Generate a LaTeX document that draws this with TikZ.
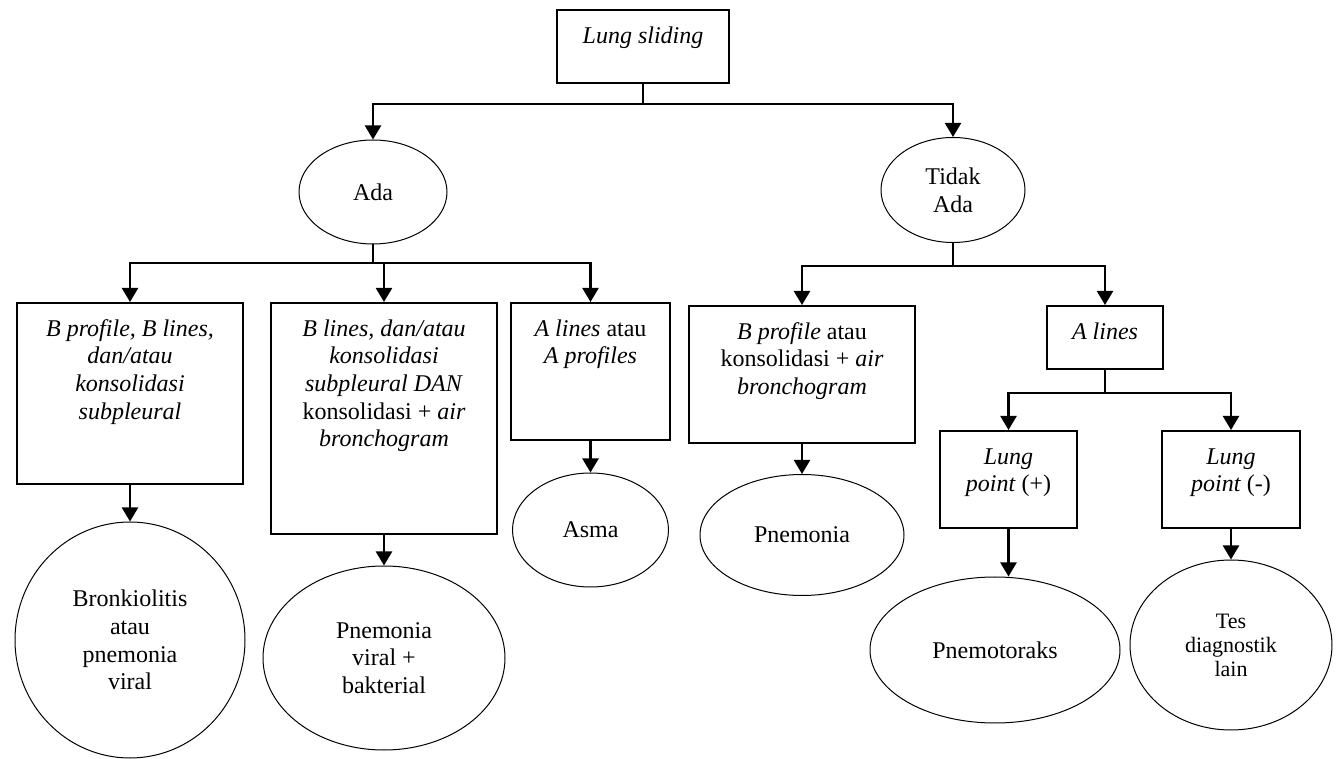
\documentclass[tikz,border=0pt]{standalone}
\usepackage{fontspec}
\setmainfont{Liberation Serif}
\usetikzlibrary{arrows.meta,shapes.geometric,positioning,calc}
\newcommand{\baris}[1]{\begin{tabular}[t]{@{}c@{}}#1\end{tabular}}

\begin{document}
\begin{tikzpicture}[x=0.5pt,y=-0.5pt,font=\fontsize{12}{13.8}\selectfont,
  kotak/.style={draw,line width=0.9pt,inner xsep=0pt,inner ysep=7pt,text height=9.7pt,anchor=north},
  bulat/.style={draw,ellipse,line width=0.5pt,inner sep=0pt,align=center},
  garis/.style={line width=1.1pt},
  panah/.style={garis,-{Triangle[width=8pt,length=7pt]}}]
  \useasboundingbox (0,0) rectangle (1341,759);
  \foreach \nm/\x/\y/\w/\d/\teks in {
      slide/643/9/86/12.8/{\textit{Lung sliding}},
      b1/130/302/113/66.8/{\textit{B profile, B lines,}\\\textit{dan/atau}\\\textit{konsolidasi}\\\textit{subpleural}},
      b2/384/302/113/91.8/{\textit{B lines, dan/atau}\\\textit{konsolidasi}\\\textit{subpleural DAN}\\konsolidasi + \textit{air}\\\textit{bronchogram}},
      b3/590.5/302/79.5/44.8/{\textit{A lines} atau\\\textit{A profiles}},
      b4/802/305/113/44.8/{\textit{B profile} atau\\konsolidasi + \textit{air}\\\textit{bronchogram}},
      b5/1105/305/58/7.8/{\textit{A lines}},
      b6/1008.5/430/68.5/24.8/{\textit{Lung}\\\textit{point} (+)},
      b7/1231/430/69/24.8/{\textit{Lung}\\\textit{point} (-)}} {
    \node[kotak,minimum width=\w pt,text depth=\d pt] (\nm) at (\x,\y) {\baris{\teks}};
  }
  \foreach \nm/\x/\y/\w/\h/\teks in {
      ada/373/192/74/52/{Ada},
      tidak/953/190/72/52.5/{Tidak\\Ada},
      e1/130/640/115/118/{Bronkiolitis\\atau\\pnemonia\\viral},
      e2/384/658/121/92/{Pnemonia\\viral +\\bakterial},
      e3/590.5/530/78/57/{Asma},
      e4/802/535/102/60.5/{Pnemonia},
      e5/995/650/125/73/{Pnemotoraks}} {
    \node[bulat,minimum width=\w pt,minimum height=\h pt] (\nm) at (\x,\y) {\teks};
  }
  \node[bulat,minimum width=101pt,minimum height=85pt,font=\fontsize{11}{12}\selectfont] (e6) at (1231,645) {Tes\\diagnostik\\lain};

  \coordinate (j1) at (643,104);
  \coordinate (j2) at (373,263);
  \coordinate (j3) at (953,266);
  \coordinate (j4) at (1105,393);
  \draw[garis] (slide) -- (j1);
  \draw[panah] (j1) -| (ada);
  \draw[panah] (j1) -| (tidak);
  \draw[garis] (ada) -- (j2);
  \foreach \b in {b1,b2,b3} \draw[panah] (j2) -| (\b);
  \draw[garis] (tidak) -- (j3);
  \foreach \b in {b4,b5} \draw[panah] (j3) -| (\b);
  \draw[garis] (b5) -- (j4);
  \foreach \b in {b6,b7} \draw[panah] (j4) -| (\b);
  \foreach \b/\e in {b1/e1,b2/e2,b3/e3,b4/e4,b7/e6} \draw[panah] (\b) -- (\e);
  \draw[panah] (b6.south) -- (b6.south |- e5.north);
\end{tikzpicture}
\end{document}
